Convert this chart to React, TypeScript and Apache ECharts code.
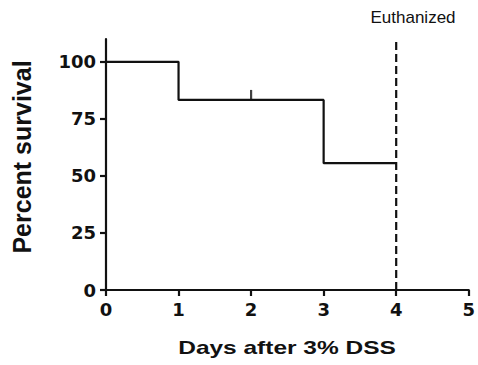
import React, { useEffect, useRef } from "react";
import * as echarts from "echarts";

// Kaplan-Meier steps (day, percent survival)
const days = [0, 1, 3, 4];
const survival = [100, 83.3, 55.6, 55.6];
// censored observation marks
const censoredDays = [2];
const censoredSurvival = [83.3];
// vertical reference line
const euthanizedDay = 4;
const euthanizedLabel = "Euthanized";
const yTicks = [0, 25, 50, 75, 100];
const xTitle = "Days after 3% DSS";
const yTitle = "Percent survival";

const INK = "#111111";

export default function App() {
  const ref = useRef<HTMLDivElement>(null);
  useEffect(() => {
    if (!ref.current) return;
    const chart = echarts.init(ref.current, undefined, { renderer: "svg" });
    const tickFont = {
      fontFamily: "DejaVu Sans",
      fontWeight: "bold" as const,
      fontSize: 18,
      color: INK,
    };
    chart.setOption({
      animation: false,
      backgroundColor: "#ffffff",
      grid: { left: 106, right: 8, top: 39, bottom: 75, containLabel: false },
      xAxis: {
        type: "value",
        min: 0,
        max: 5,
        interval: 1,
        axisLine: { show: true, onZero: false, lineStyle: { color: INK, width: 2.2 } },
        axisTick: { show: true, length: 6, lineStyle: { color: INK, width: 2.2 } },
        axisLabel: { ...tickFont, margin: 10 },
        splitLine: { show: false },
      },
      yAxis: {
        type: "value",
        min: 0,
        max: 110,
        interval: 25,
        axisLine: { show: true, onZero: false, lineStyle: { color: INK, width: 2.2 } },
        axisTick: { show: true, length: 6, customValues: yTicks, lineStyle: { color: INK, width: 2.2 } },
        axisLabel: { ...tickFont, margin: 10, customValues: yTicks },
        splitLine: { show: false },
      },
      series: [
        {
          type: "line",
          step: "end",
          data: days.map((d, i) => [d, survival[i]]),
          symbol: "none",
          lineStyle: { color: INK, width: 2.2 },
          z: 3,
        },
        {
          type: "scatter",
          data: censoredDays.map((d, i) => [d, censoredSurvival[i]]),
          symbol: "rect",
          symbolSize: [2.2, 10],
          symbolOffset: [0, -5],
          itemStyle: { color: INK },
          z: 4,
        },
        {
          type: "line",
          data: [
            [euthanizedDay, 0],
            [euthanizedDay, 110],
          ],
          symbol: "none",
          lineStyle: { color: INK, width: 2.2, type: [8, 4] },
          z: 2,
        },
      ],
      graphic: [
        {
          type: "text",
          x: 22,
          y: 157,
          rotation: Math.PI / 2,
          style: {
            text: yTitle,
            fontFamily: "Liberation Sans",
            fontWeight: "bold",
            fontSize: 25,
            fill: INK,
            textAlign: "center",
            textVerticalAlign: "middle",
          },
        },
        {
          type: "text",
          x: 287,
          y: 348,
          scaleX: 1.36,
          style: {
            text: xTitle,
            fontFamily: "Liberation Sans",
            fontWeight: "bold",
            fontSize: 18,
            fill: INK,
            textAlign: "center",
            textVerticalAlign: "middle",
          },
        },
        {
          type: "text",
          x: 413,
          y: 17,
          style: {
            text: euthanizedLabel,
            fontFamily: "Liberation Sans",
            fontSize: 17,
            fill: INK,
            textAlign: "center",
            textVerticalAlign: "middle",
          },
        },
      ],
    });
    return () => chart.dispose();
  }, []);
  return (
    <div
      ref={ref}
      style={{ position: "absolute", left: 0, top: 0, width: 478, height: 365 }}
    />
  );
}
